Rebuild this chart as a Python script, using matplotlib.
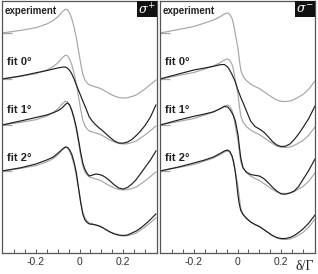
import matplotlib
matplotlib.use("Agg")
import matplotlib.pyplot as plt
from matplotlib.patches import Rectangle

# ---------------- data (detuning delta/Gamma, signal in arb. units) ----------------
x_left = [-0.355, -0.27, -0.2, -0.15, -0.12, -0.1, -0.08, -0.065, -0.055, -0.045, -0.035,
          -0.025, -0.015, -0.005, 0.005, 0.015, 0.025, 0.035, 0.045, 0.06, 0.075, 0.09,
          0.105, 0.12, 0.14, 0.16, 0.18, 0.2, 0.22, 0.24, 0.26, 0.28, 0.3, 0.325, 0.35]

exp_left = [0, 2.6, 5.3, 9, 12.5, 16, 21, 23.8, 23.2, 19.8, 14, 6, -4.5, -17, -30, -41, -47,
            -50, -52, -53, -54, -55, -56.5, -58.5, -61, -63, -64.5, -65, -64.7, -63.5, -62,
            -59, -56, -51.5, -47]
fit0_left = [0, 3, 6.2, 8.4, 10, 11, 11.8, 12, 10.8, 8.5, 5, 0, -5.5, -11, -16.5, -22, -27,
             -32.5, -38, -42.5, -46, -49, -51.5, -54.5, -58.5, -62, -64, -64.2, -63, -60.5,
             -56.5, -52, -46.5, -38, -26]
fit1_left = [0, 4, 7.5, 10, 12.3, 14.2, 17, 20.5, 22, 20, 14.5, 7, -2, -14, -27, -38, -44.5,
             -48.5, -51, -50, -49, -49.5, -50.5, -52.5, -56, -60, -63, -64, -62.5, -59,
             -54.5, -48.5, -42.5, -35, -26]
fit2_left = [0, 3.2, 7, 11, 14, 17.5, 21.5, 24, 23.6, 21, 16.5, 9, -1, -16, -31, -43, -49,
             -51.5, -53, -53.3, -54, -55, -56.5, -58.5, -61, -62.8, -64, -64.5, -64, -62, -60,
             -57, -53.5, -48.5, -43]

x_right = [-0.355, -0.27, -0.2, -0.15, -0.11, -0.08, -0.06, -0.045, -0.035, -0.025, -0.018,
           -0.01, -0.004, 0.002, 0.008, 0.015, 0.025, 0.04, 0.06, 0.08, 0.1, 0.12, 0.14,
           0.16, 0.18, 0.2, 0.22, 0.24, 0.26, 0.28, 0.3, 0.325, 0.355]

exp_right = [0, 3.5, 6.5, 10, 13, 16.3, 19, 20, 18.5, 14.5, 9, -1, -8, -15, -26, -37, -43,
             -47.5, -51, -53.5, -55.5, -58.5, -61.5, -64.5, -67, -68.3, -68.5, -68, -66.5,
             -64, -61.5, -56.5, -48]
fit0_right = [0, 5, 9, 11, 12.7, 14.3, 14.5, 12, 8.5, 4.5, 1, -3, -7, -11, -14.5, -18.5,
              -23.5, -31.5, -42, -47.5, -50, -53, -57.5, -62.5, -66, -67.5, -67.2, -65,
              -60.5, -55, -48.5, -40, -27]
fit1_right = [0, 5, 8.7, 11, 13.2, 16.2, 18.5, 18, 15.5, 12, 9, 4, -2.5, -9.5, -20.5, -33,
              -42.5, -47, -49.5, -50.3, -51, -53.5, -57.5, -62.2, -66, -69, -69.2, -68, -66,
              -61.5, -54.5, -46, -34]
fit2_right = [0, 4, 8, 11, 14, 17.5, 20, 21, 19.5, 15, 9, -1, -12, -24, -33, -39.5, -43.5,
              -47, -51, -53.5, -55.5, -58.5, -61.5, -64.5, -66.5, -67.5, -67.5, -66.5, -64.5,
              -61.5, -58, -52.5, -44]

row_labels = ["experiment", "fit 0\u00b0", "fit 1\u00b0", "fit 2\u00b0"]
row_offsets = [0, -46, -92, -138]
panel_labels = [r"$\sigma^{+}$", r"$\sigma^{-}$"]
tick_values = [-0.2, 0, 0.2]
tick_labels = ["-0.2", "0", "0.2"]
x_label = "\u03b4/\u0393"

# ---------------- figure ----------------
W, H = 318, 274
fig = plt.figure(figsize=(W / 100, H / 100), dpi=100)

GRAY = "#a6a6a6"
BLACK = "#1e1e1e"
FRAME = "#555555"

def px_axes(x0, x1, y0, y1):
    return fig.add_axes([x0 / W, 1 - y1 / H, (x1 - x0) / W, (y1 - y0) / H])

panels = [
    (px_axes(2, 157, 1, 253), x_left, exp_left, [fit0_left, fit1_left, fit2_left]),
    (px_axes(160, 315, 1, 253), x_right, exp_right, [fit0_right, fit1_right, fit2_right]),
]

for i, (ax, xs, exp, fits) in enumerate(panels):
    ax.set_xlim(-0.355, 0.355)
    ax.set_ylim(-220, 32)
    for r, off in enumerate(row_offsets):
        ax.plot([-0.355, -0.31], [off, off], color=GRAY, lw=0.9, solid_capstyle="butt")
        ax.plot(xs, [v + off for v in exp], color=GRAY, lw=0.85)
        if r > 0:
            ax.plot(xs, [v + off for v in fits[r - 1]], color=BLACK, lw=0.85)
    ys = [0.962, 0.758, 0.567, 0.377]
    for r, lab in enumerate(row_labels):
        xx = 0.015 if r == 0 else 0.032
        fs = 7 if r == 0 else 8
        ax.text(xx, ys[r], lab, transform=ax.transAxes, ha="left", va="center",
                fontsize=fs, fontweight="bold", family="Liberation Sans", color="#222222")
    ax.add_patch(Rectangle((0.87, 0.937), 0.13, 0.063, transform=ax.transAxes,
                           facecolor="#111111", edgecolor="none", zorder=5))
    ax.text(0.935, 0.966, panel_labels[i], transform=ax.transAxes, ha="center",
            va="center", color="white", fontsize=9, math_fontfamily="dejavuserif", zorder=6)
    ax.set_yticks([])
    ax.set_xticks(tick_values)
    ax.set_xticklabels(tick_labels, fontsize=7.5, family="Liberation Sans", color="#333333")
    ax.set_xticks([-0.3, -0.25, -0.15, -0.1, -0.05, 0.05, 0.1, 0.15, 0.25, 0.3], minor=True)
    ax.tick_params(axis="x", which="both", direction="in", length=3, width=0.7,
                   color=FRAME, pad=3)
    for sp in ax.spines.values():
        sp.set_color(FRAME)
        sp.set_linewidth(0.9)

fig.text(305 / W, 1 - 266 / H, x_label, ha="center", va="center", fontsize=10,
         family="Liberation Serif", color="#222222")

fig.savefig("out.png", dpi=100)
